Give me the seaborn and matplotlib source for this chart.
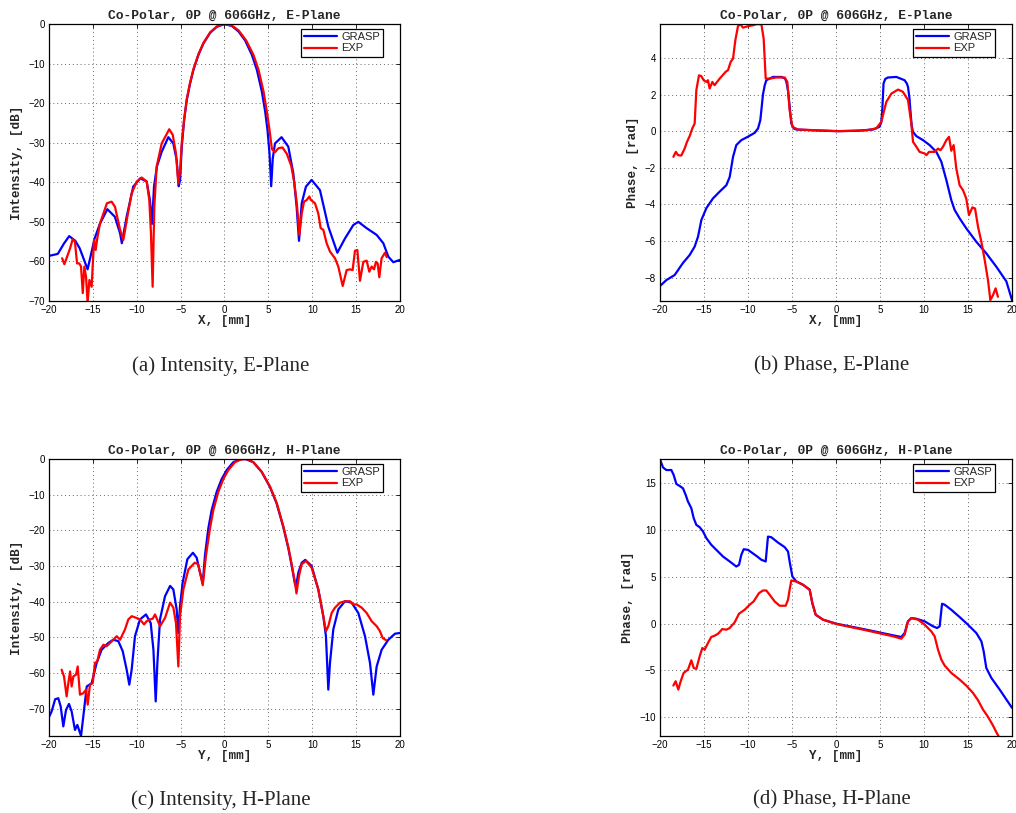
import matplotlib
matplotlib.use('Agg')
import matplotlib.pyplot as plt
import seaborn as sns

# (a) Intensity, E-Plane
a_grasp_x = [-20, -19, -18.3, -17.7, -17, -16.5, -15.6, -14.8, -14.2, -13.35, -12.5, -11.9, -11.7,
             -11.15, -10.4, -9.6, -8.87, -8.5, -8.26, -8.03, -7.7, -7.16, -6.4, -5.83, -5.45, -5.22,
             -5.06, -4.87, -4.6, -4.3, -3.92, -3.54, -2.97, -2.4, -1.63, -0.87, 0, 0.84, 1.6, 2.36,
             3.12, 3.69, 4.26, 4.64, 4.9, 5.13, 5.32, 5.5, 5.75, 6.5,
             7.27, 7.84, 8.22, 8.49, 8.8, 9.28, 9.93, 10.88, 11.83, 12.86, 13.73, 14.68, 15.25, 16.2,
             17.34, 18.1, 18.67, 19.24, 20]
a_grasp_y = [-58.6, -58.1, -55.5, -53.6, -54.8, -56.7, -62, -54.2, -50.5, -46.8, -48.7, -52.9, -55.4,
             -48.7, -41.1, -39, -39.8, -44.5, -50.5, -41, -36, -32.3, -28.6, -30.2, -34.4, -41,
             -39.4, -31, -24.3, -19.2, -15, -11.6, -7.8, -4.9, -2.2, -0.7, 0, -0.5, -1.9, -4.2,
             -7.8, -11.6, -17.1, -22.2, -26.8, -32.7, -41, -34, -30.2, -28.6,
             -31, -37.7, -46.2, -54.8, -45.3, -41.1, -39.4, -42, -51.2, -57.8, -54.2, -50.8, -50, -51.6,
             -53.3, -55.4, -58.8, -60.2, -59.6]
a_exp_x = [-18.5, -18.25, -18, -17.6, -17.3, -17.05, -16.8, -16.55, -16.35, -16.15, -15.97, -15.78,
           -15.6, -15.4, -15.14, -14.87, -14.68, -14.5, -14.19, -13.8, -13.4, -12.86, -12.48, -11.9,
           -11.53, -11.07, -10.58, -10, -9.44, -8.87, -8.57, -8.38, -8.19, -8, -7.73, -7.16, -6.3,
           -5.9, -5.53, -5.26, -5.06, -4.87, -4.6, -4.3, -3.92, -3.54, -2.97, -2.4, -1.63, -0.87, 0,
           0.84, 1.6, 2.48, 3.3, 3.88, 4.45, 4.83, 5.13, 5.4, 5.75, 6.14, 6.6, 7.1, 7.6, 7.95, 8.25,
           8.53, 8.8, 9.06, 9.36, 9.67, 9.82, 10.31, 10.69, 10.96, 11.26,
           11.64, 12.02, 12.59, 12.97, 13.47, 13.92, 14.3, 14.6, 14.87, 15.14, 15.44, 15.82, 16.2,
           16.5, 16.77, 17.04, 17.26, 17.45, 17.64, 17.9, 18.29, 18.48]
a_exp_y = [-59.2, -60.7, -59.2, -56.7, -54.4, -55, -60.5, -60.5, -61.3, -68, -61.3, -63.9,
           -70.5, -64.7, -66.4, -54.6, -57.1, -54.2, -50.4, -47.9, -45.3, -44.9, -46.2, -52,
           -54.6, -48.7, -42.8, -39.8, -38.8, -39.8, -44.5, -52.9, -66.4, -46.2, -36, -30.2, -26.6,
           -28, -32.7, -40.3, -37, -30, -24, -19, -14.8, -11.4, -7.6, -4.8, -2.1, -0.6, 0,
           -0.4, -1.6, -4.2, -7.8, -11.6, -17.1, -22.2, -26.8, -31.6, -32.4, -31.4, -31.2, -32.8, -35.8, -40, -45.5,
           -53.3, -47.9, -44.9, -44.5, -43.6, -44.4, -45.3, -47.9, -51.6, -52,
           -55.4, -57.5, -59.2, -61.3, -66.2, -62.2, -62, -62.2, -57.3, -57.1, -64.9, -60.1, -59.8,
           -62.6, -61.3, -62, -60.1, -60.5, -64, -59.2, -57.8, -58.9]

# (b) Phase, E-Plane
b_grasp_x = [-20, -19.28, -18.33, -17.4, -16.63, -16.06, -15.68, -15.3, -14.73, -13.98, -13.22, -12.46,
             -12.08, -11.7, -11.33, -10.76, -10, -9.24, -8.86, -8.6, -8.48, -8.3, -8.1, -7.92, -7.16,
             -6.2, -5.8, -5.64, -5.45, -5.34, -5.08, -4.8, -4.5, -2.23, 0.04, 2.3, 4.2, 4.96, 5.15,
             5.26, 5.4, 5.6, 5.9, 6.86, 7.8, 8.05, 8.18, 8.35, 8.45, 8.6,
             8.75, 9.13, 9.89, 10.64, 11.4, 11.97, 12.54, 13.1, 13.48, 14.05, 14.8, 15.95, 17.08,
             18.22, 19.36, 20]
b_grasp_y = [-8.45, -8.13, -7.85, -7.2, -6.76, -6.3, -5.76, -4.85, -4.2, -3.67, -3.3, -2.95,
             -2.5, -1.4, -0.76, -0.49, -0.3, -0.09, 0.15, 0.6, 1.15, 2.0, 2.5, 2.78, 2.96,
             2.96, 2.88, 2.7, 2.2, 1.7, 0.42, 0.15, 0.09, 0.04, 0, 0.02, 0.09, 0.24, 0.5,
             1.15, 2.6, 2.85, 2.93, 2.96, 2.78, 2.6, 2.42, 1.8, 1.15, 0.3,
             -0.04, -0.27, -0.49, -0.76, -1.13, -1.67, -2.67, -3.76, -4.3, -4.76, -5.3, -6.04, -6.67,
             -7.4, -8.2, -9.22]
b_exp_x = [-18.48, -18.2, -17.95, -17.58, -17.2, -16.93, -16.63, -16.33, -16.06, -15.87, -15.57,
           -15.3, -15.04, -14.73, -14.55, -14.36, -14.05, -13.8, -13.22, -12.54, -12.27, -11.97,
           -11.7, -11.44, -11.14, -10.87, -10.57, -10, -9.43, -9.05, -8.48, -8.22, -7.99, -7.54,
           -6.78, -5.83, -5.53, -5.27, -4.96, -4.32, -2.23, 0.42, 3.45, 4.58, 5.15, 5.72, 6.29, 7.05,
           7.6, 8.18, 8.56, 8.75, 9.13, 9.5, 10.08, 10.27, 10.57, 11.2, 11.6, 11.86, 12.16, 12.54,
           12.84, 13.1, 13.37, 13.67, 14.05, 14.43, 14.8, 15.11, 15.5, 15.8, 16.14, 16.52, 16.9,
           17.27, 17.54, 17.84, 18.14, 18.4]
b_exp_y = [-1.4, -1.13, -1.31, -1.33, -0.95, -0.58, -0.27, 0.15, 0.42, 2.24, 3.05,
           3, 2.78, 2.69, 2.78, 2.33, 2.69, 2.51, 2.87, 3.24, 3.33, 3.78,
           3.96, 4.96, 5.73, 5.84, 5.65, 5.73, 5.78, 5.84, 5.84, 5.05, 2.87, 2.87,
           2.93, 2.93, 2.69, 1.15, 0.24, 0.09, 0.05, 0, 0.05, 0.15, 0.51, 1.6, 2.05, 2.27,
           2.15, 1.7, 0.42, -0.58, -0.85, -1.13, -1.22, -1.31, -1.13, -1.13, -0.95, -1.04, -0.85, -0.49,
           -0.31, -1.07, -0.76, -2.04, -2.95, -3.22, -3.67, -4.58, -4.16, -4.22, -5.22, -6.04, -7.04,
           -8.13, -9.22, -8.95, -8.58, -9.04]

# (c) Intensity, H-Plane
c_grasp_x = [-20, -19.7, -19.3, -18.94, -18.67, -18.37, -18.06, -17.72, -17.42, -17.04, -16.77, -16.58,
             -16.35, -16.09, -15.7, -15.14, -14.57, -14, -13.24, -12.67, -12.1, -11.6, -11.15, -10.85,
             -10.58, -10.2, -9.63, -8.95, -8.41, -8.1, -7.84, -7.65, -7.35, -6.78, -6.2, -5.83, -5.45,
             -5.26, -5.07, -4.77, -4.23, -3.6, -3.17, -2.79, -2.48, -2.22, -1.84, -1.46, -0.89, -0.32,
             0.25, 1, 1.76, 2.4, 3.28, 4.23, 5.17, 5.93, 6.69, 7.27, 7.64, 8.02, 8.15, 8.41, 8.8, 9.2,
             9.93, 10.69, 11.26, 11.56,
             11.83, 12.02, 12.4, 12.97, 13.73, 14.49, 15.25, 16.01, 16.58, 16.96, 17.34, 17.91, 18.67,
             19.43, 20]
c_grasp_y = [-72.4, -70.8, -67.4, -67.1, -69.4, -75, -70.4, -68.7, -70.8, -76, -74.6, -76,
             -77.7, -72.2, -63.8, -62.9, -57.2, -53.5, -51.6, -50.7, -51.1, -53.9, -59.1, -63.3,
             -59.1, -49.7, -45, -43.6, -46, -53.5, -68, -57.2, -45, -38.5, -35.6, -36.6, -42.2,
             -48.8, -41.3, -34.7, -28.1, -26.3, -27.7, -31.9, -34.9, -26.9, -19.4, -14.3, -9.2, -5.6,
             -3.1, -0.9, -0.1, 0, -0.9, -3.6, -7.8, -12.4, -19, -25, -29.7, -34.9, -35.8, -31.9, -29.1, -28.3,
             -30, -36.6, -44.1, -49.7,
             -64.7, -57.2, -47.8, -42.2, -39.9, -40.3, -43.2, -49.7, -57.2, -66.1, -58.2, -53.5, -50.7,
             -49, -48.8]
c_exp_x = [-18.56, -18.29, -17.99, -17.8, -17.6, -17.42, -17.23, -16.92, -16.73, -16.47, -16.09,
           -15.78, -15.59, -15.33, -15.02, -14.76, -14.5, -14.19, -13.8, -13.43, -13.05, -12.67,
           -12.29, -11.9, -11.34, -10.96, -10.58, -10.01, -9.63, -9.17, -8.87, -8.49, -8.18, -7.92,
           -7.35, -6.78, -6.2, -5.83, -5.53, -5.26, -5.07, -4.69, -4.12, -3.4, -3.0, -2.7, -2.48,
           -2.1, -1.65, -1.27, -0.7, -0.13, 0.44, 1.19, 1.9, 2.52, 3.3, 4.25, 5.2, 5.96, 6.72, 7.3,
           7.67, 8.05, 8.2, 8.49, 8.8,
           9.29, 9.93, 10.69, 11.26, 11.56, 11.83, 12.21, 12.59, 13.16, 13.73, 14.3, 14.68, 15.06,
           15.63, 16.2, 16.77, 17.34, 17.72, 18.02, 18.4]
c_exp_y = [-59.1, -61, -66.6, -62.9, -59.6, -63.8, -61, -60.5, -58.2, -66.1, -65.7,
           -64.7, -68.9, -63.3, -62.9, -57.2, -56.8, -53.5, -52.1, -52.5, -51.6, -50.7,
           -49.7, -50.7, -47.8, -45, -44.1, -44.6, -45, -46.4, -45.5, -45, -44.8, -43.6,
           -46.9, -44.6, -40.3, -41.7, -46, -58.2, -44.1, -36.6, -31, -29.1, -29.5, -32.8, -35.4,
           -26.9, -19.4, -14.3, -9.2, -5.6, -3.1, -0.9, -0.1, 0, -0.9, -3.6, -7.8, -12.4, -19, -25,
           -29.7, -34.9, -37.7, -32.8, -29.5,
           -28.6, -30.5, -36.6, -44.1, -48.3, -46.9, -43.2, -41.7, -40.3, -39.9, -39.9, -40.8, -40.8,
           -41.7, -43.2, -45.5, -46.9, -48.3, -50.2, -50.8]

# (d) Phase, H-Plane
d_grasp_x = [-20, -19.66, -19.28, -18.71, -18.45, -18.14, -17.77, -17.39, -17.08, -16.82, -16.44, -16.17,
             -15.87, -15.49, -15.11, -14.73, -14.17, -13.6, -12.84, -12.08, -11.33, -11.02, -10.76,
             -10.49, -10, -9.05, -8.48, -7.99, -7.73, -7.35, -6.59, -5.83, -5.45, -5.27, -4.96, -4.5,
             -3.75, -2.99, -2.69, -2.31, -1.48, 0.04, 3.45, 6.48, 7.42, 7.8, 8.18, 8.56, 9.13, 10.08,
             11.02, 11.48, 11.78, 12.05, 12.35, 13.1, 14.05, 15, 15.95, 16.52, 16.78, 17.08, 17.65,
             18.6, 19.36, 20]
d_grasp_y = [17.56, 16.7, 16.42, 16.42, 15.9, 14.93, 14.72, 14.47, 13.76, 13.05, 12.34, 11.27,
             10.56, 10.31, 9.85, 9.14, 8.43, 7.89, 7.18, 6.65, 6.11, 6.29, 7.36,
             7.96, 7.89, 7.25, 6.83, 6.65, 9.31, 9.24, 8.67, 8.18, 7.71, 6.65, 5.05, 4.51,
             4.16, 3.63, 2.2, 0.96, 0.43, 0, -0.64, -1.24, -1.42, -1, 0.25, 0.6, 0.53, 0.25,
             -0.28, -0.46, -0.28, 2.13, 2.03, 1.49, 0.71, -0.11, -1, -1.88, -2.95, -4.73, -5.79,
             -7.04, -8.1, -8.99]
d_exp_x = [-18.48, -18.22, -17.92, -17.65, -17.31, -16.82, -16.44, -16.17, -15.87, -15.49, -15.19,
           -14.92, -14.55, -14.17, -13.79, -13.4, -12.92, -12.46, -12.08, -11.52, -11.02, -10.38,
           -9.81, -9.36, -8.75, -8.3, -7.92, -7.54, -6.97, -6.4, -5.72, -5.45, -5.27, -5.08, -4.5,
           -3.75, -2.99, -2.69, -2.31, -1.48, 0.04, 3.45, 6.48, 7.42, 7.8, 8.18, 8.56, 9.32, 10.08,
           10.83, 11.21, 11.59, 11.97, 12.35, 13.1, 14.05, 14.8, 15.56, 16.14, 16.7, 17.27, 17.84,
           18.22, 18.52]
d_exp_y = [-6.61, -6.15, -7.04, -6.15, -5.26, -4.91, -3.91, -4.73, -4.83, -3.48, -2.6,
           -2.77, -2.06, -1.42, -1.28, -1.07, -0.57, -0.64, -0.46, 0.14, 1.07, 1.49,
           2.03, 2.38, 3.27, 3.55, 3.55, 3.09, 2.38, 1.92, 1.92, 2.56, 3.63, 4.62, 4.51,
           4.16, 3.63, 2.2, 0.96, 0.43, -0.04, -0.71, -1.35, -1.6, -1.17, 0.25, 0.6, 0.43, -0.11,
           -0.82, -1.35, -2.77, -3.84, -4.48, -5.26, -5.97, -6.61, -7.39, -8.18, -9.17, -9.95, -10.88,
           -11.59, -12.1]

titles = ['Co-Polar, 0P @ 606GHz, E-Plane', 'Co-Polar, 0P @ 606GHz, E-Plane',
          'Co-Polar, 0P @ 606GHz, H-Plane', 'Co-Polar, 0P @ 606GHz, H-Plane']
xlabels = ['X, [mm]', 'X, [mm]', 'Y, [mm]', 'Y, [mm]']
ylabels = ['Intensity, [dB]', 'Phase, [rad]', 'Intensity, [dB]', 'Phase, [rad]']
captions = ['(a) Intensity, E-Plane', '(b) Phase, E-Plane',
            '(c) Intensity, H-Plane', '(d) Phase, H-Plane']
ylims = [(-70, 0), (-9.27, 5.85), (-77.7, 0), (-12, 17.6)]
yticks = [range(-70, 1, 10), range(-8, 5, 2), range(-70, 1, 10), range(-10, 16, 5)]
xticks = range(-20, 21, 5)

sns.set_style('white')
plt.rcParams['font.family'] = ['Liberation Sans', 'DejaVu Sans']

fig = plt.figure(figsize=(10.16, 8.13), dpi=100)
W, H = 1016, 813
# axes boxes in pixels: left, top, right, bottom
boxes = [(49, 24, 400, 301), (660, 24, 1012, 301), (49, 459, 400, 736), (660, 459, 1012, 736)]
cap_pos = [(221, 366), (832, 366), (221, 800), (832, 800)]

data = [(a_grasp_x, a_grasp_y, a_exp_x, a_exp_y),
        (b_grasp_x, b_grasp_y, b_exp_x, b_exp_y),
        (c_grasp_x, c_grasp_y, c_exp_x, c_exp_y),
        (d_grasp_x, d_grasp_y, d_exp_x, d_exp_y)]

for i in range(4):
    l, t, r, b = boxes[i]
    ax = fig.add_axes([l / W, 1 - b / H, (r - l) / W, (b - t) / H])
    gx, gy, ex, ey = data[i]
    sns.lineplot(x=gx, y=gy, ax=ax, color='blue', lw=1.6, label='GRASP', sort=False, estimator=None)
    sns.lineplot(x=ex, y=ey, ax=ax, color='red', lw=1.6, label='EXP', sort=False, estimator=None)
    ax.set_xlim(-20, 20)
    ax.set_ylim(*ylims[i])
    ax.set_xticks(list(xticks))
    ax.set_yticks(list(yticks[i]))
    ax.tick_params(direction='in', top=True, right=True, length=3, width=0.6,
                   labelsize=7, pad=3, colors='black')
    ax.grid(True, linestyle=(0, (1, 3)), color='#666666', linewidth=0.7)
    for s in ax.spines.values():
        s.set_color('black')
        s.set_linewidth(0.9)
    ax.set_title(titles[i], fontfamily='Liberation Mono', fontweight='bold', fontsize=9.4, pad=4)
    ax.set_xlabel(xlabels[i], fontfamily='Liberation Mono', fontweight='bold', fontsize=9.1, labelpad=0)
    ax.set_ylabel(ylabels[i], fontfamily='Liberation Mono', fontweight='bold', fontsize=9.1, labelpad=4)
    leg = ax.legend(loc='upper right', bbox_to_anchor=(0.952, 0.982), borderaxespad=0,
                    fancybox=False, edgecolor='black', framealpha=1, fontsize=8,
                    handlelength=2.9, borderpad=0.3, labelspacing=0.1, handletextpad=0.4)
    leg.get_frame().set_linewidth(0.9)
    cx, cy = cap_pos[i]
    fig.text(cx / W, 1 - cy / H, captions[i], ha='center', va='center',
             fontfamily='Liberation Serif', fontsize=15)

fig.savefig('out.png', dpi=100)
